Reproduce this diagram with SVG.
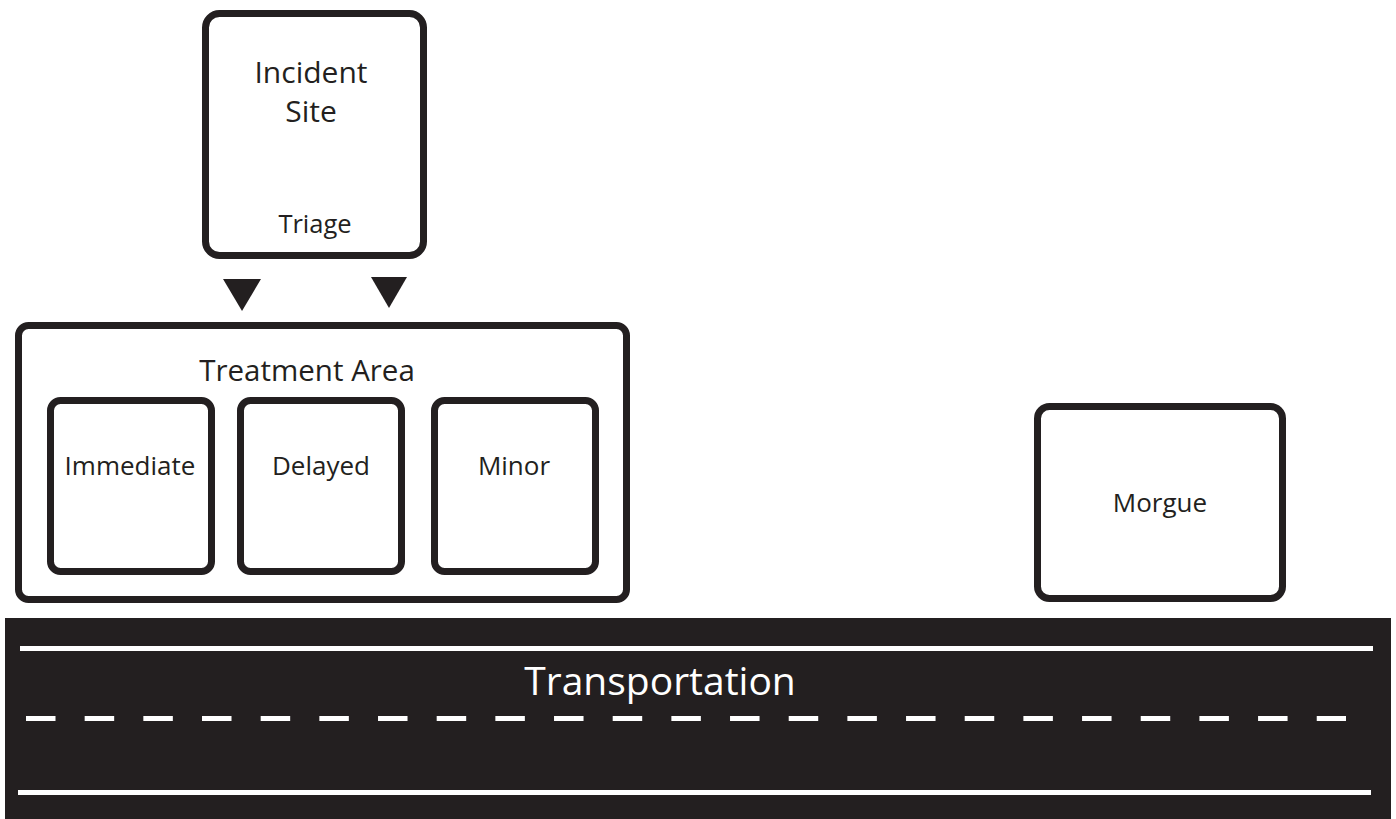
<svg xmlns="http://www.w3.org/2000/svg" width="1396" height="819" viewBox="0 0 1396 819">
<style>
.box{fill:#fff;stroke:#231f20;stroke-width:7}
.t{font-family:"Open Sans","Liberation Sans",sans-serif;fill:#231f20;text-anchor:middle}
.w{fill:#fff}
.road{stroke:#fff;stroke-width:5}
</style>
<rect width="1396" height="819" fill="#fff"/>
<g id="incident-site">
<rect class="box" x="205.5" y="13.5" width="218" height="242" rx="14"/>
<text class="t" x="311" y="83" font-size="30">Incident</text>
<text class="t" x="311" y="122" font-size="30">Site</text>
<text class="t" x="315" y="233" font-size="25.5">Triage</text>
</g>
<g id="connectors">
<polygon points="223,279 261,279 242,311" fill="#231f20"/>
<polygon points="371,277 407,277 389,308" fill="#231f20"/>
</g>
<g id="treatment-area">
<rect class="box" x="18.5" y="325.5" width="608" height="274" rx="10"/>
<text class="t" x="307" y="381" font-size="29.5">Treatment Area</text>
</g>
<g id="immediate">
<rect class="box" x="50.5" y="400.5" width="161" height="171" rx="10"/>
<text class="t" x="130" y="475" font-size="26">Immediate</text>
</g>
<g id="delayed">
<rect class="box" x="240.5" y="400.5" width="161" height="171" rx="10"/>
<text class="t" x="321" y="475" font-size="26">Delayed</text>
</g>
<g id="minor">
<rect class="box" x="434.5" y="400.5" width="161" height="171" rx="10"/>
<text class="t" x="514" y="475" font-size="26">Minor</text>
</g>
<g id="morgue">
<rect class="box" x="1037.5" y="406.5" width="245" height="192" rx="12"/>
<text class="t" x="1160" y="512" font-size="26">Morgue</text>
</g>
<g id="transportation">
<rect x="5" y="618" width="1386" height="201" fill="#231f20"/>
<line class="road" x1="20" y1="648.5" x2="1373" y2="648.5"/>
<line class="road" x1="18" y1="792.5" x2="1371" y2="792.5"/>
<line class="road" x1="26" y1="718.5" x2="1346" y2="718.5" stroke-dasharray="29.5 29.17"/>
<text class="t w" x="660" y="695" font-size="39">Transportation</text>
</g>
</svg>
